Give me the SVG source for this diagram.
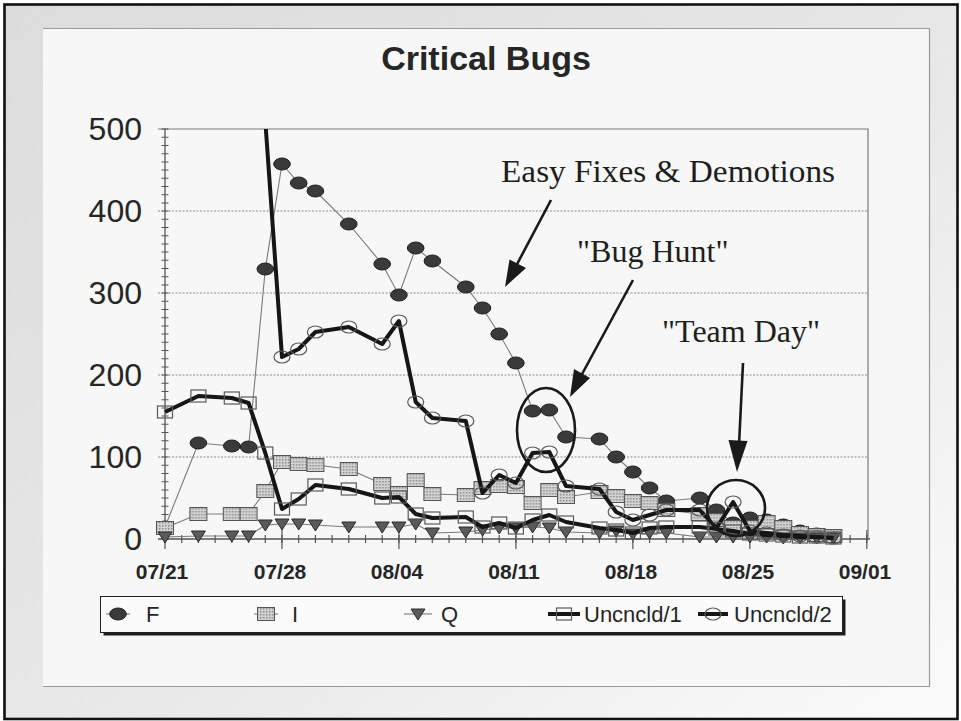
<svg xmlns="http://www.w3.org/2000/svg" width="961" height="721" viewBox="0 0 961 721">
  <style>
    .sans { font-family: "Liberation Sans", Arial, sans-serif; fill: #262626; }
    .serif { font-family: "Liberation Serif", "Times New Roman", serif; fill: #1e1e1e; }
    .ylab { font-size: 32px; text-anchor: end; }
    .xlab { font-size: 21px; font-weight: bold; text-anchor: middle; }
    .leg { font-size: 22px; }
    .note { font-size: 32px; }
    .thin { fill: none; stroke: #7a7a7a; stroke-width: 1.1; }
    .thick { fill: none; stroke: #161616; stroke-width: 4; stroke-linejoin: round; }
    .grid { stroke: #8c8c8c; stroke-width: 1; stroke-dasharray: 2 1.5; }
    .arrow { stroke: #1a1a1a; stroke-width: 2.6; fill: none; }
    .head { fill: #1a1a1a; }
    .ring { fill: none; stroke: #1a1a1a; stroke-width: 2.6; }
  </style>
  <defs>
    <linearGradient id="bg" x1="0" y1="0" x2="1" y2="1">
      <stop offset="0" stop-color="#dcdcdc"/>
      <stop offset="0.55" stop-color="#e8e8e8"/>
      <stop offset="1" stop-color="#fbfbfb"/>
    </linearGradient>
    <pattern id="dots" width="3" height="3" patternUnits="userSpaceOnUse">
      <rect width="3" height="3" fill="#d2d2d2"/>
      <rect width="1.5" height="1.5" fill="#8e8e8e"/>
    </pattern>
    <clipPath id="plotClip">
      <rect x="150" y="129" width="730" height="430"/>
    </clipPath>
    <!-- marker shapes, centred on 0,0 -->
    <ellipse id="shF" rx="8.3" ry="6" fill="#3a3a3a" stroke="#1c1c1c" stroke-width="1"/>
    <rect id="shI" x="-8.5" y="-6.5" width="17" height="13" fill="url(#dots)" stroke="#555" stroke-width="1"/>
    <path id="shQ" d="M-7,-5 H7 L0,6 Z" fill="#5a5a5a" stroke="#2a2a2a" stroke-width="1"/>
    <rect id="shU1" x="-7.5" y="-6" width="15" height="12" fill="none" stroke="#5a5a5a" stroke-width="1.2"/>
    <ellipse id="shU2" rx="8" ry="6" fill="none" stroke="#5a5a5a" stroke-width="1.2"/>
    <marker id="mkF" markerUnits="userSpaceOnUse" markerWidth="1" markerHeight="1" overflow="visible" orient="0"><use href="#shF"/></marker>
    <marker id="mkI" markerUnits="userSpaceOnUse" markerWidth="1" markerHeight="1" overflow="visible" orient="0"><use href="#shI"/></marker>
    <marker id="mkQ" markerUnits="userSpaceOnUse" markerWidth="1" markerHeight="1" overflow="visible" orient="0"><use href="#shQ"/></marker>
    <marker id="mkU1" markerUnits="userSpaceOnUse" markerWidth="1" markerHeight="1" overflow="visible" orient="0"><use href="#shU1"/></marker>
    <marker id="mkU2" markerUnits="userSpaceOnUse" markerWidth="1" markerHeight="1" overflow="visible" orient="0"><use href="#shU2"/></marker>
  </defs>

  <!-- page and chart panel -->
  <g id="frame">
    <rect width="961" height="721" fill="#ffffff"/>
    <rect x="4.5" y="4.5" width="953" height="714.5" fill="url(#bg)" stroke="#111" stroke-width="2.6"/>
    <rect x="43" y="28" width="887" height="659" fill="#f7f7f7"/>
    <path d="M43,28.5 H929.5 V686.5 H43" fill="none" stroke="#9a9a9a" stroke-width="1.2"/>
  </g>

  <g id="title">
    <text class="sans" x="486" y="70" font-size="34" font-weight="bold" text-anchor="middle">Critical Bugs</text>
  </g>

  <!-- plot frame, gridlines, axes and tick marks -->
  <g id="axes">
    <path class="grid" d="M158,211 H868 M158,293 H868 M158,375 H868 M158,457 H868"/>
    <path d="M158,129 H868 V539" fill="none" stroke="#7a7a7a" stroke-width="1.2"/>
    <path d="M165,129 V539 M158,539 H870" stroke="#555" stroke-width="1.3"/>
    <line x1="165" y1="128.6" x2="165" y2="540" stroke="#555" stroke-width="7" stroke-dasharray="1 7.2"/>
    <line x1="164.4" y1="539" x2="870" y2="539" stroke="#555" stroke-width="8" stroke-dasharray="1.2 15.51"/>
    <line x1="164.4" y1="539.5" x2="870" y2="539.5" stroke="#555" stroke-width="19" stroke-dasharray="1.2 115.77"/>
    <text class="sans ylab" x="142" y="140">500</text>
    <text class="sans ylab" x="142" y="222">400</text>
    <text class="sans ylab" x="142" y="304">300</text>
    <text class="sans ylab" x="142" y="386">200</text>
    <text class="sans ylab" x="142" y="468">100</text>
    <text class="sans ylab" x="142" y="550">0</text>
    <text class="sans xlab" x="162" y="579">07/21</text>
    <text class="sans xlab" x="280" y="579">07/28</text>
    <text class="sans xlab" x="397" y="579">08/04</text>
    <text class="sans xlab" x="514" y="579">08/11</text>
    <text class="sans xlab" x="631" y="579">08/18</text>
    <text class="sans xlab" x="748" y="579">08/25</text>
    <text class="sans xlab" x="865" y="579">09/01</text>
  </g>

  <!-- data series -->
  <g id="series-f">
    <polyline class="thin" marker-start="url(#mkF)" marker-mid="url(#mkF)" marker-end="url(#mkF)"
      points="165,527 198.4,443 231.8,446 248.6,447 265.3,269 282,164 298.7,183 315.4,191 348.8,224 382.2,264 398.9,295 415.7,248 432.4,261 465.8,287 482.5,308 499.2,334 515.9,363 532.6,411 549.3,410 566,437 599.5,439 616.2,457 632.9,472 649.6,488 666.3,501 699.7,498 716.4,510 733.1,523 749.9,518 766.6,520 783.3,525 800,531 816.7,534 833.4,536"/>
  </g>
  <g id="series-i">
    <polyline class="thin" marker-start="url(#mkI)" marker-mid="url(#mkI)" marker-end="url(#mkI)"
      points="165,528 198.4,514 231.8,514 248.6,514 265.3,491 282,462 298.7,464 315.4,465 348.8,469 382.2,484 398.9,493 415.7,480 432.4,494 465.8,495 482.5,488 499.2,486 515.9,487 532.6,503 549.3,490 566,497 599.5,492 616.2,496 632.9,501 649.6,503 666.3,510 699.7,514 716.4,520 733.1,527 749.9,527 766.6,522 783.3,527 800,533 816.7,535 833.4,536"/>
  </g>
  <g id="series-q">
    <polyline class="thin" marker-start="url(#mkQ)" marker-mid="url(#mkQ)" marker-end="url(#mkQ)"
      points="165,537 198.4,536 231.8,536 248.6,536 265.3,525 282,524 298.7,524 315.4,525 348.8,527 382.2,527 398.9,527 415.7,524 432.4,533 465.8,532 482.5,530 499.2,528 515.9,528 532.6,527 549.3,528 566,532 599.5,533 616.2,531 632.9,534 649.6,533 666.3,533 699.7,537 716.4,537 733.1,537 749.9,537 766.6,537 783.3,538 800,538 816.7,538 833.4,538"/>
  </g>
  <g id="series-uncncld1">
    <polyline class="thick" marker-start="url(#mkU1)" marker-mid="url(#mkU1)" marker-end="url(#mkU1)"
      points="165,412 198.4,396 231.8,398 248.6,403 265.3,453 282,509 298.7,499 315.4,485 348.8,489 382.2,498 398.9,497 415.7,514 432.4,518 465.8,517 482.5,527 499.2,523 515.9,528 532.6,520 549.3,515 566,522 599.5,528 616.2,530 632.9,533 649.6,528 666.3,527 699.7,527 716.4,529 733.1,531 749.9,534 766.6,535 783.3,536 800,537 816.7,537 833.4,538"/>
  </g>
  <g id="series-uncncld2" clip-path="url(#plotClip)">
    <polyline class="thick" marker-start="url(#mkU2)" marker-mid="url(#mkU2)" marker-end="url(#mkU2)"
      points="265.3,121 282,357 298.7,349 315.4,332 348.8,327 382.2,344 398.9,321 415.7,402 432.4,418 465.8,421 482.5,493 499.2,475 515.9,483 532.6,453 549.3,452 566,486 599.5,489 616.2,512 632.9,520 649.6,515 666.3,510 699.7,510 716.4,528 733.1,502 749.9,531 766.6,533 783.3,535 800,536 816.7,537 833.4,538"/>
  </g>

  <!-- callouts -->
  <g id="note-easy">
    <text class="serif note" x="501" y="182" font-size="34" textLength="334" lengthAdjust="spacingAndGlyphs">Easy Fixes &amp; Demotions</text>
    <line class="arrow" x1="551" y1="200" x2="515" y2="268"/>
    <polygon class="head" points="505,287 509.5,259.5 526,268"/>
  </g>
  <g id="note-bughunt">
    <text class="serif note" x="577" y="262" font-size="30">"Bug Hunt"</text>
    <line class="arrow" x1="633" y1="280" x2="581" y2="376"/>
    <polygon class="head" points="570,397 574,369 590,378"/>
    <ellipse class="ring" cx="546" cy="430" rx="29" ry="42"/>
  </g>
  <g id="note-teamday">
    <text class="serif note" x="662" y="342">"Team Day"</text>
    <line class="arrow" x1="743" y1="363" x2="739" y2="445"/>
    <polygon class="head" points="737,472 728.5,440 747.5,441"/>
    <ellipse class="ring" cx="736" cy="508" rx="29" ry="28"/>
  </g>

  <!-- legend -->
  <g id="legend">
    <rect x="103.5" y="599.5" width="742" height="36" fill="#1e1e1e"/>
    <rect x="100.5" y="596.5" width="742" height="36" fill="#fbfbfb" stroke="#222" stroke-width="1"/>
    <line class="thin" x1="106" y1="614" x2="130" y2="614"/>
    <use href="#shF" x="118" y="614"/>
    <text class="sans leg" x="146" y="622">F</text>
    <line class="thin" x1="254" y1="614" x2="278" y2="614"/>
    <use href="#shI" x="266" y="614"/>
    <text class="sans leg" x="292" y="622">I</text>
    <line class="thin" x1="404" y1="614" x2="432" y2="614"/>
    <use href="#shQ" x="418" y="614"/>
    <text class="sans leg" x="441" y="622">Q</text>
    <line class="thick" x1="548" y1="614" x2="580" y2="614"/>
    <use href="#shU1" x="564" y="614"/>
    <text class="sans leg" x="584" y="622">Uncncld/1</text>
    <line class="thick" x1="698" y1="614" x2="728" y2="614"/>
    <use href="#shU2" x="713" y="614"/>
    <text class="sans leg" x="734" y="622">Uncncld/2</text>
  </g>
</svg>
